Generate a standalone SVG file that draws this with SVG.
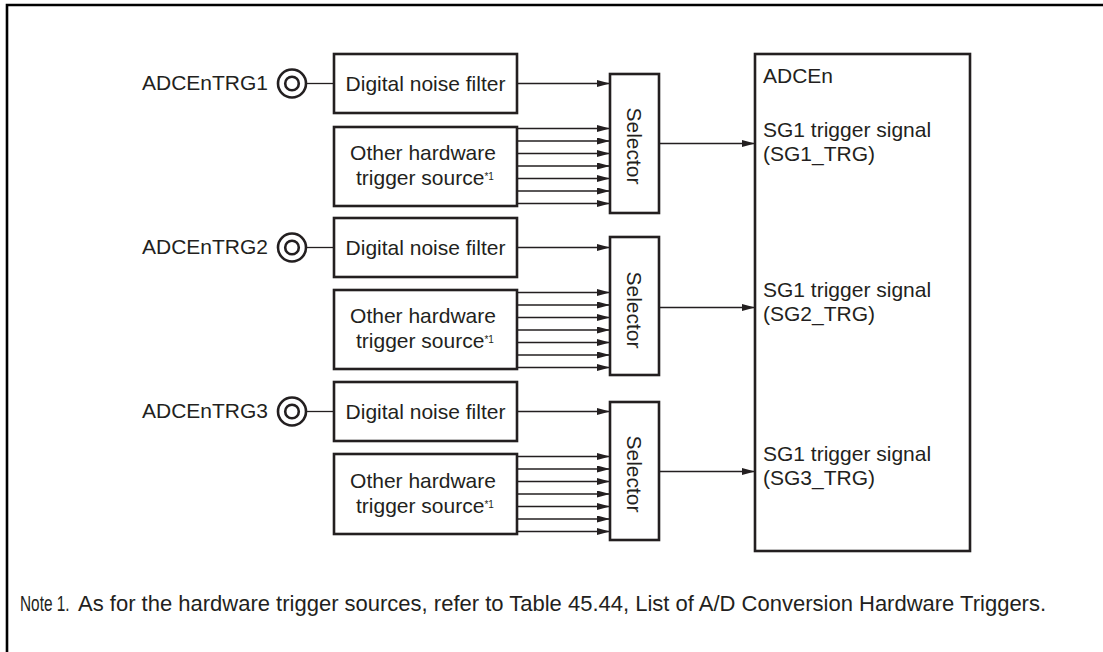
<svg xmlns="http://www.w3.org/2000/svg" width="1103" height="652" viewBox="0 0 1103 652">
<style>
text{font-family:"Liberation Sans",Arial,sans-serif;font-size:21px;fill:#231f20}
.box{fill:#fff;stroke:#231f20;stroke-width:2.6}
.pin{fill:none;stroke:#231f20;stroke-width:2.6}
.ln{fill:none;stroke:#231f20;stroke-width:1.3}
.ar{fill:none;stroke:#231f20;stroke-width:1.3;marker-end:url(#ah)}
.mid{text-anchor:middle}
.end{text-anchor:end}
.sup{font-size:10px}
.note{font-size:22px}
</style>
<defs>
<marker id="ah" markerUnits="userSpaceOnUse" markerWidth="14" markerHeight="8" refX="13" refY="3.5" orient="auto">
<path d="M0,0 L13,3.5 L0,7 Z" fill="#231f20"/>
</marker>
</defs>
<path d="M7,652 V5 H1103" fill="none" stroke="#000" stroke-width="2.6"/>

<g id="connectors">
<line class="ln" x1="307" y1="83.5" x2="334" y2="83.5"/>
<line class="ar" x1="517" y1="83.5" x2="610" y2="83.5"/>
<line class="ar" x1="517" y1="128.5" x2="610" y2="128.5"/>
<line class="ar" x1="517" y1="141" x2="610" y2="141"/>
<line class="ar" x1="517" y1="153.5" x2="610" y2="153.5"/>
<line class="ar" x1="517" y1="166" x2="610" y2="166"/>
<line class="ar" x1="517" y1="178.5" x2="610" y2="178.5"/>
<line class="ar" x1="517" y1="191" x2="610" y2="191"/>
<line class="ar" x1="517" y1="203.5" x2="610" y2="203.5"/>
<line class="ar" x1="659" y1="143.5" x2="755" y2="143.5"/>

<line class="ln" x1="307" y1="247.5" x2="334" y2="247.5"/>
<line class="ar" x1="517" y1="247.5" x2="610" y2="247.5"/>
<line class="ar" x1="517" y1="292.5" x2="610" y2="292.5"/>
<line class="ar" x1="517" y1="305" x2="610" y2="305"/>
<line class="ar" x1="517" y1="317.5" x2="610" y2="317.5"/>
<line class="ar" x1="517" y1="330" x2="610" y2="330"/>
<line class="ar" x1="517" y1="342.5" x2="610" y2="342.5"/>
<line class="ar" x1="517" y1="355" x2="610" y2="355"/>
<line class="ar" x1="517" y1="367.5" x2="610" y2="367.5"/>
<line class="ar" x1="659" y1="307.5" x2="755" y2="307.5"/>

<line class="ln" x1="307" y1="411.5" x2="334" y2="411.5"/>
<line class="ar" x1="517" y1="411.5" x2="610" y2="411.5"/>
<line class="ar" x1="517" y1="456.5" x2="610" y2="456.5"/>
<line class="ar" x1="517" y1="469" x2="610" y2="469"/>
<line class="ar" x1="517" y1="481.5" x2="610" y2="481.5"/>
<line class="ar" x1="517" y1="494" x2="610" y2="494"/>
<line class="ar" x1="517" y1="506.5" x2="610" y2="506.5"/>
<line class="ar" x1="517" y1="519" x2="610" y2="519"/>
<line class="ar" x1="517" y1="531.5" x2="610" y2="531.5"/>
<line class="ar" x1="659" y1="471.5" x2="755" y2="471.5"/>
</g>

<g id="pin1">
<text class="end" x="268" y="90">ADCEnTRG1</text>
<circle class="pin" cx="292" cy="83.5" r="14"/>
<circle class="pin" cx="292" cy="83.5" r="6.8"/>
</g>
<g id="filter1">
<rect class="box" x="334" y="54" width="183" height="59"/>
<text class="mid" x="425.5" y="90.5">Digital noise filter</text>
</g>
<g id="hw1">
<rect class="box" x="334" y="127" width="183" height="79"/>
<text class="mid" x="423" y="160">Other hardware</text>
<text x="356" y="185">trigger source<tspan class="sup" dy="-5">*1</tspan></text>
</g>
<g id="selector1">
<rect class="box" x="610" y="74" width="49" height="139"/>
<text class="mid" transform="translate(627,146) rotate(90)">Selector</text>
</g>

<g id="pin2">
<text class="end" x="268" y="254">ADCEnTRG2</text>
<circle class="pin" cx="292" cy="247.5" r="14"/>
<circle class="pin" cx="292" cy="247.5" r="6.8"/>
</g>
<g id="filter2">
<rect class="box" x="334" y="218" width="183" height="59"/>
<text class="mid" x="425.5" y="254.5">Digital noise filter</text>
</g>
<g id="hw2">
<rect class="box" x="334" y="290" width="183" height="79"/>
<text class="mid" x="423" y="323">Other hardware</text>
<text x="356" y="348">trigger source<tspan class="sup" dy="-5">*1</tspan></text>
</g>
<g id="selector2">
<rect class="box" x="610" y="237" width="49" height="138"/>
<text class="mid" transform="translate(627,310) rotate(90)">Selector</text>
</g>

<g id="pin3">
<text class="end" x="268" y="418">ADCEnTRG3</text>
<circle class="pin" cx="292" cy="411.5" r="14"/>
<circle class="pin" cx="292" cy="411.5" r="6.8"/>
</g>
<g id="filter3">
<rect class="box" x="334" y="382" width="183" height="59"/>
<text class="mid" x="425.5" y="418.5">Digital noise filter</text>
</g>
<g id="hw3">
<rect class="box" x="334" y="454" width="183" height="80"/>
<text class="mid" x="423" y="488">Other hardware</text>
<text x="356" y="513">trigger source<tspan class="sup" dy="-5">*1</tspan></text>
</g>
<g id="selector3">
<rect class="box" x="610" y="402" width="49" height="138"/>
<text class="mid" transform="translate(627,474) rotate(90)">Selector</text>
</g>

<g id="adcen">
<rect class="box" x="755" y="54" width="215" height="497"/>
<text x="763" y="83">ADCEn</text>
<text x="763" y="137">SG1 trigger signal</text>
<text x="763" y="161">(SG1_TRG)</text>
<text x="763" y="297">SG1 trigger signal</text>
<text x="763" y="321">(SG2_TRG)</text>
<text x="763" y="461">SG1 trigger signal</text>
<text x="763" y="485">(SG3_TRG)</text>
</g>

<g id="note">
<text class="note" transform="translate(20,611) scale(0.7,1)">Note 1.</text>
<text class="note" x="78" y="611">As for the hardware trigger sources, refer to Table 45.44, List of A/D Conversion Hardware Triggers.</text>
</g>
</svg>
